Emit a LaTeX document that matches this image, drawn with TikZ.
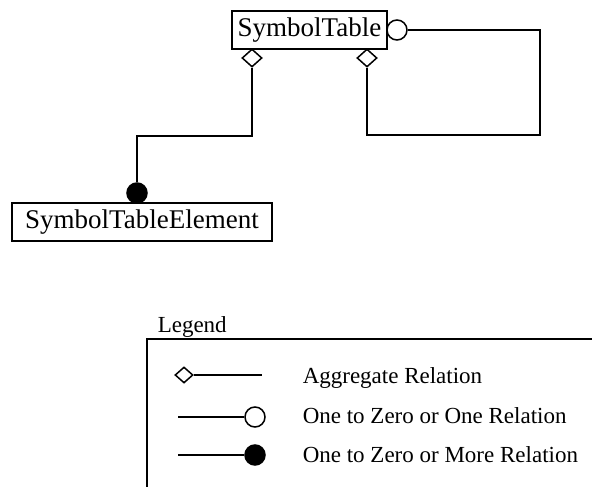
\documentclass[tikz,border=0pt]{standalone}
\usepackage{fontspec}
\setmainfont{Liberation Serif}
\usetikzlibrary{shapes.geometric}
\tikzset{
  cls/.style={draw,fill=white,inner sep=0pt,minimum height=38pt,font=\fontsize{27}{30}\selectfont},
  agg/.style={draw,fill=white,diamond,inner sep=0pt,minimum width=20pt,minimum height=18pt},
  opt/.style={draw,fill=white,circle,inner sep=0pt,minimum size=20pt},
  many/.style={draw,fill=black,circle,inner sep=0pt,minimum size=20pt},
  lgd/.style={inner sep=0pt,anchor=base west,font=\fontsize{23}{26}\selectfont}
}
\begin{document}
\begin{tikzpicture}[x=1pt,y=-1pt,line width=1.5pt]
 \useasboundingbox (0,0) rectangle (592,487);
 % classes
 \node[cls,minimum width=155pt] (st) at (309.5,30) {SymbolTable};
 \node[cls,minimum width=260pt] (ste) at (142,222) {SymbolTableElement};
 \node[agg] (stagg) at (252,58) {};
 \node[agg] (selfagg) at (367,58) {};
 \node[opt] (selfopt) at (397,30) {};
 \node[many] (stemany) at (137,193) {};
 \coordinate (selfturn) at (540,135);
 \draw (selfopt.east) -| (selfturn) -| (selfagg.south);
 \draw (stagg.south) -- ++(0,68) -| (stemany.north);
 % legend
 \node[lgd] (lgdtitle) at (157,332) {Legend};
 \coordinate (lgdtr) at (592,339);
 \coordinate (lgdbl) at (147,487);
 \draw (lgdtr) -| (lgdbl);
 \node[agg,minimum width=18pt,minimum height=16pt] (lgdagg) at (184,375) {};
 \coordinate (lgdaggend) at (262,375);
 \draw (lgdagg) -- (lgdaggend);
 \node[lgd] (lgdaggtxt) at (302,383) {Aggregate Relation};
 \node[opt] (lgdopt) at (255,417) {};
 \coordinate (lgdoptend) at (178,417);
 \draw (lgdoptend) -- (lgdopt);
 \node[lgd] (lgdopttxt) at (302,423) {One to Zero or One Relation};
 \node[many] (lgdmany) at (255,455) {};
 \coordinate (lgdmanyend) at (178,455);
 \draw (lgdmanyend) -- (lgdmany);
 \node[lgd] (lgdmanytxt) at (302,462) {One to Zero or More Relation};
\end{tikzpicture}
\end{document}
